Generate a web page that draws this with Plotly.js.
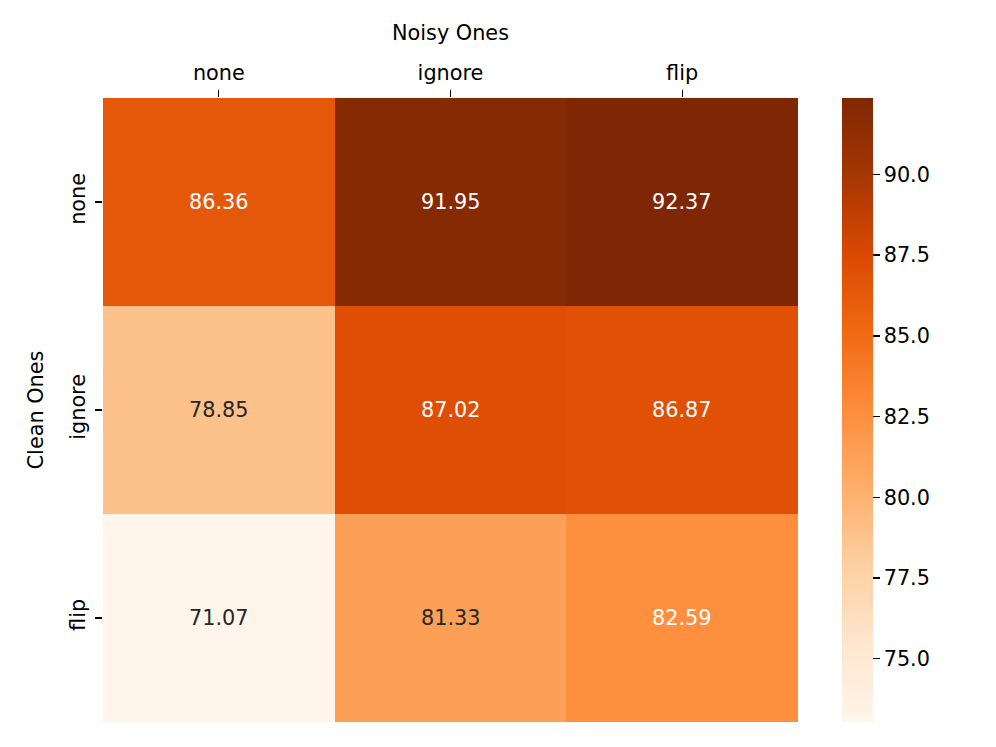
<!DOCTYPE html>
<html>
<head>
<meta charset="utf-8">
<script src="https://cdn.plot.ly/plotly-3.0.1.min.js"></script>
<style>html,body{margin:0;padding:0;background:#fff;}#chart{width:996px;height:747px;}</style>
</head>
<body>
<div id="chart"></div>
<script>
const noisyOnes = ['none', 'ignore', 'flip'];
const cleanOnes = ['none', 'ignore', 'flip'];
const values = [
  [86.36, 91.95, 92.37],
  [78.85, 87.02, 86.87],
  [71.07, 81.33, 82.59]
];
const cbarTicks = [75.0, 77.5, 80.0, 82.5, 85.0, 87.5, 90.0];
const zMin = 73.04, zMax = 92.37;

const oranges = ['#fff5eb','#fee6ce','#fdd0a2','#fdae6b','#fd8d3c','#f16913','#d94801','#a63603','#7f2704'];
const colorscale = oranges.map((c, i) => [i / (oranges.length - 1), c]);

function hexToRgb(h){return [1,3,5].map(i=>parseInt(h.substr(i,2),16));}
function colorAt(v){
  let t = Math.max(0, Math.min(1, (v - zMin) / (zMax - zMin)));
  const n = oranges.length - 1;
  const k = Math.min(n - 1, Math.floor(t * n));
  const f = t * n - k;
  const a = hexToRgb(oranges[k]), b = hexToRgb(oranges[k+1]);
  return a.map((x, i) => x + (b[i] - x) * f);
}
function luminance(rgb){
  const c = rgb.map(x => { x /= 255; return x <= 0.03928 ? x / 12.92 : Math.pow((x + 0.055) / 1.055, 2.4); });
  return 0.2126*c[0] + 0.7152*c[1] + 0.0722*c[2];
}

const font = 'DejaVu Sans, sans-serif';
const fs = 20.8;

const annotations = [];
cleanOnes.forEach((r, i) => {
  noisyOnes.forEach((c, j) => {
    const v = values[i][j];
    annotations.push({
      x: c, y: r, xref: 'x', yref: 'y', text: v.toFixed(2), showarrow: false,
      font: {family: font, size: fs, color: luminance(colorAt(v)) > 0.408 ? '#262626' : '#ffffff'}
    });
  });
});

const trace = {
  type: 'heatmap', x: noisyOnes, y: cleanOnes, z: values,
  colorscale: colorscale, zmin: zMin, zmax: zMax, hoverinfo: 'none',
  colorbar: {
    x: (842 - 103) / 695, xanchor: 'left', xref: 'paper', xpad: 0, ypad: 0,
    y: 0.5, yanchor: 'middle', len: 1, lenmode: 'fraction', thickness: 31,
    outlinewidth: 0, ticks: 'outside', ticklen: 7, tickwidth: 1.5, tickcolor: '#000',
    tickvals: cbarTicks, ticktext: cbarTicks.map(t => t.toFixed(1)),
    tickfont: {family: font, size: fs, color: '#000'}
  }
};

const layout = {
  width: 996, height: 747,
  margin: {l: 103, r: 198, t: 98, b: 25},
  paper_bgcolor: '#fff', plot_bgcolor: '#fff',
  font: {family: font, size: fs, color: '#000'},
  xaxis: {
    side: 'top', type: 'category', categoryarray: noisyOnes, categoryorder: 'array',
    ticks: 'outside', ticklen: 7, tickwidth: 1.3, tickcolor: '#000', ticklabelstandoff: 2,
    showgrid: false, zeroline: false, showline: false,
    tickfont: {family: font, size: fs, color: '#000'},
    title: {text: 'Noisy Ones', font: {family: font, size: fs, color: '#000'}, standoff: 14}
  },
  yaxis: {
    type: 'category', autorange: 'reversed',
    ticks: 'outside', ticklen: 7, tickwidth: 1.3, tickcolor: '#000', tickangle: -90, ticklabelstandoff: 2,
    showgrid: false, zeroline: false, showline: false,
    tickfont: {family: font, size: fs, color: '#000'},
    title: {text: 'Clean Ones', font: {family: font, size: fs, color: '#000'}, standoff: 16}
  },
  annotations: annotations
};

Plotly.newPlot('chart', [trace], layout, {displayModeBar: false, staticPlot: true}).then(gd => {
  // shift colorbar tick labels right to leave a matplotlib-like gap after the tick marks
  gd.querySelectorAll('.colorbar .cbaxis .ytick text, .colorbar .ytick text').forEach(t => {
    const x = parseFloat(t.getAttribute('x') || 0);
    t.setAttribute('x', x + 8);
  });
});
</script>
</body>
</html>
